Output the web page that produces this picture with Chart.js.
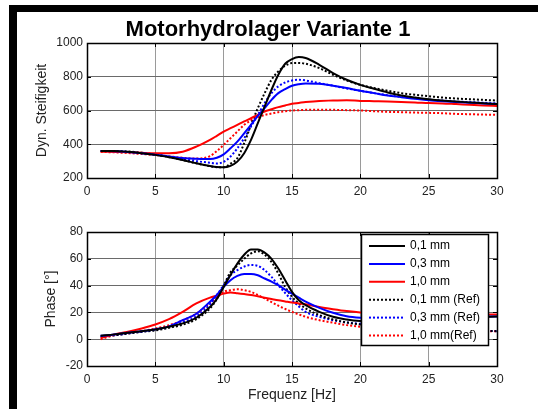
<!DOCTYPE html>
<html>
<head>
<meta charset="utf-8">
<title>Motorhydrolager Variante 1</title>
<script src="https://cdn.jsdelivr.net/npm/chart.js@4.4.0/dist/chart.umd.min.js"></script>
<style>
  body { margin: 0; background: #fff; width: 538px; height: 409px; overflow: hidden; position: relative; }
  canvas { position: absolute; left: 0; }
  #c1 { top: 0; }
  #c2 { top: 205px; }
  .bar { position: absolute; background: #000; }
</style>
</head>
<body>
<canvas id="c1" width="538" height="205"></canvas>
<canvas id="c2" width="538" height="204"></canvas>
<div class="bar" style="left:9px;top:5px;width:529px;height:7px"></div>
<div class="bar" style="left:9px;top:5px;width:8px;height:404px"></div>

<script>
// Frequenz [Hz]
const freq = [1, 2, 3, 4, 5, 6, 7, 8, 9, 9.5, 10, 10.5, 11, 11.5, 12, 12.5, 13, 13.5, 14, 14.5,
  15, 15.5, 16, 17, 18, 19, 20, 21, 22, 23, 24, 25, 26, 27, 28, 29, 30];

// Dyn. Steifigkeit
const stiff01 = [360, 360, 355, 347, 337, 323, 307, 287, 271, 265, 263, 272, 297, 347, 426, 525, 624, 723, 812, 877,
  905, 917, 911, 871, 822, 782, 752, 729, 707, 689, 677, 667, 659, 653, 648, 643, 638];
const stiff03 = [360, 358, 354, 347, 338, 328, 318, 314, 312, 320, 340, 376, 416, 465, 515, 568, 614, 663, 703, 727,
  747, 756, 760, 758, 747, 733, 717, 703, 689, 679, 669, 661, 655, 650, 646, 642, 638];
const stiff10 = [356, 354, 352, 349, 347, 347, 356, 386, 426, 450, 475, 495, 515, 535, 554, 574, 594, 607, 620, 630,
  640, 645, 650, 657, 659, 661, 657, 655, 653, 650, 648, 644, 642, 638, 634, 630, 627];
const stiff01Ref = [360, 360, 357, 350, 340, 325, 307, 287, 270, 264, 264, 285, 317, 406, 515, 614, 703, 782, 832, 865,
  881, 882, 877, 851, 812, 778, 752, 733, 717, 703, 693, 685, 677, 671, 667, 663, 659];
const stiff03Ref = [360, 358, 354, 347, 338, 326, 313, 300, 290, 286, 296, 327, 376, 436, 505, 574, 644, 703, 743, 766,
  778, 782, 778, 762, 747, 731, 717, 703, 691, 681, 673, 665, 659, 653, 650, 646, 642];
const stiff10Ref = [355, 352, 348, 342, 336, 328, 320, 315, 330, 360, 396, 436, 475, 515, 541, 558, 574, 582, 590, 595,
  600, 602, 604, 604, 604, 602, 600, 596, 592, 590, 588, 586, 584, 580, 578, 576, 574];

// Phase [°]
const phase01 = [2.6, 3.6, 4.8, 6, 7.3, 9.3, 11.8, 16, 24, 30, 39, 48, 56.4, 63, 67, 67, 64.6, 60, 52.7, 44,
  35.3, 29, 25.4, 20.4, 16.7, 14.7, 13.5, 13, 13, 13.5, 14, 14.5, 15, 15.5, 16, 16.5, 17];
const phase03 = [2.5, 3.5, 4.8, 6, 7.5, 9.6, 14.2, 19, 28, 33, 39, 44, 47.2, 48.7, 48.7, 47.7, 45.3, 43, 40.3, 37,
  34, 31, 28, 23.4, 19.7, 17.2, 16, 15.5, 15.5, 15.8, 16, 16.2, 16.5, 16.7, 17, 17, 17];
const phase10 = [1, 3.6, 5.5, 8, 11, 15, 20.4, 26.7, 31, 32.5, 34, 34.8, 34.3, 33.7, 33, 32, 31, 30, 29, 28.2,
  27.4, 26.7, 26, 24, 22.4, 21, 20, 19.6, 19.3, 19, 18.9, 18.8, 18.7, 18.6, 18.5, 18.5, 18.5];
const phase01Ref = [2, 3, 4.2, 5.5, 6.6, 8.5, 10.8, 15, 23, 30, 40, 50, 55, 60, 64, 65.6, 63, 57.7, 49, 39,
  31.6, 26.7, 23, 18, 14.7, 12.5, 11, 10, 9.2, 8.5, 8, 7.5, 7, 6.8, 6.5, 6.2, 6];
const phase03Ref = [2, 3, 4.3, 5.6, 7, 9, 12.5, 17, 26, 33, 40.3, 47.7, 51.5, 54.2, 55.4, 54.7, 51.5, 46.5, 40.3, 34.5,
  29, 24.5, 20.4, 16.7, 14.2, 12.5, 11.5, 10.5, 9.5, 8.8, 8.2, 7.6, 7.2, 6.8, 6.5, 6.2, 6];
const phase10Ref = [0, 3, 4.5, 6, 8, 10.5, 14, 19, 27, 31, 35.3, 36.6, 37.3, 36.6, 35.3, 33, 30.4, 27.7, 25, 22.6,
  20.4, 18.5, 16.7, 14.2, 12.3, 10.5, 9.3, 8.5, 7.9, 7.4, 7, 6.7, 6.5, 6.3, 6.1, 6, 6];

const labels = ['0,1 mm', '0,3 mm', '1,0 mm', '0,1 mm (Ref)', '0,3 mm (Ref)', '1,0 mm(Ref)'];
const colors = ['#000000', '#0000ff', '#ff0000', '#000000', '#0000ff', '#ff0000'];
const chartTitle = 'Motorhydrolager Variante 1';

const FONT = 'Arial, "Liberation Sans", sans-serif';

function pts(vals) {
  return freq.map((f, i) => ({ x: f, y: vals[i] }));
}

function makeDatasets(series) {
  return series.map((vals, i) => ({
    label: labels[i],
    data: pts(vals),
    borderColor: colors[i],
    borderWidth: 2,
    borderDash: i >= 3 ? [2, 2] : [],
    pointRadius: 0,
    cubicInterpolationMode: 'monotone',
    fill: false
  }));
}

// Rahmen und Ticks nach innen (wie Matlab)
const boxPlugin = {
  id: 'matlabBox',
  afterDatasetsDraw(chart) {
    const { ctx, chartArea: a, scales } = chart;
    ctx.save();
    ctx.strokeStyle = '#000';
    ctx.lineWidth = 1;
    ctx.beginPath();
    scales.x.ticks.forEach(t => {
      const px = Math.round(scales.x.getPixelForValue(t.value)) + 0.5;
      ctx.moveTo(px, a.bottom); ctx.lineTo(px, a.bottom - 4);
      ctx.moveTo(px, a.top); ctx.lineTo(px, a.top + 4);
    });
    scales.y.ticks.forEach(t => {
      const py = Math.round(scales.y.getPixelForValue(t.value)) + 0.5;
      ctx.moveTo(a.left, py); ctx.lineTo(a.left + 4, py);
      ctx.moveTo(a.right, py); ctx.lineTo(a.right - 4, py);
    });
    ctx.stroke();
    ctx.lineWidth = 1.5;
    ctx.strokeRect(a.left + 0.5, a.top + 0.5, a.right - a.left, a.bottom - a.top);
    ctx.restore();
  }
};

// Titel oben (Matlab-Stil, leicht links von der Achsmitte)
const titlePlugin = {
  id: 'topTitle',
  afterDraw(chart) {
    const ctx = chart.ctx;
    ctx.save();
    ctx.fillStyle = '#000';
    ctx.font = 'bold 22px ' + FONT;
    ctx.textAlign = 'center';
    ctx.textBaseline = 'middle';
    ctx.fillText(chartTitle, 268, 30);
    ctx.restore();
  }
};

// Legende im Diagramm
const legendPlugin = {
  id: 'boxLegend',
  afterDatasetsDraw(chart) {
    const ctx = chart.ctx;
    const x0 = 361, y0 = 29, w = 127, h = 111;
    ctx.save();
    ctx.fillStyle = '#fff';
    ctx.fillRect(x0, y0, w, h);
    ctx.strokeStyle = '#000';
    ctx.lineWidth = 1.5;
    ctx.strokeRect(x0 + 0.5, y0 + 0.5, w, h);
    ctx.font = '12px ' + FONT;
    ctx.textBaseline = 'middle';
    chart.data.datasets.forEach((ds, i) => {
      const y = y0 + 12 + i * 17.9;
      ctx.strokeStyle = ds.borderColor;
      ctx.lineWidth = 2;
      ctx.setLineDash(ds.borderDash);
      ctx.beginPath();
      ctx.moveTo(369, y);
      ctx.lineTo(405, y);
      ctx.stroke();
      ctx.setLineDash([]);
      ctx.fillStyle = '#000';
      ctx.fillText(ds.label, 410, y);
    });
    ctx.restore();
  }
};

function makeOptions(cfg) {
  return {
    responsive: false,
    animation: false,
    layout: { padding: { left: 0, right: 41, top: cfg.padTop, bottom: 0 } },
    plugins: {
      legend: { display: false },
      tooltip: { enabled: false },
      title: { display: false }
    },
    scales: {
      x: {
        type: 'linear',
        min: 0,
        max: 30,
        border: { display: false },
        grid: { color: '#9a9a9a', drawTicks: false },
        ticks: { stepSize: 5, padding: 6, color: '#222', font: { family: FONT, size: 12 } },
        title: cfg.xTitle ? {
          display: true,
          text: cfg.xTitle,
          color: '#222',
          font: { family: FONT, size: 14, lineHeight: 1.2 },
          padding: { top: 0, bottom: 5.6 }
        } : { display: false },
        afterFit: s => { s.height = cfg.xHeight; }
      },
      y: {
        min: cfg.yMin,
        max: cfg.yMax,
        border: { display: false },
        grid: { color: '#6a6a6a', drawTicks: false },
        ticks: {
          stepSize: cfg.yStep, padding: 4, color: '#222', font: { family: FONT, size: 12 },
          callback: v => String(v)
        },
        title: {
          display: true,
          text: cfg.yTitle,
          color: '#222',
          font: { family: FONT, size: 14, lineHeight: 1.2 },
          padding: { top: cfg.yTitlePad, bottom: 0 }
        },
        afterFit: s => { s.width = 87; }
      }
    }
  };
}

new Chart(document.getElementById('c1'), {
  type: 'line',
  data: { datasets: makeDatasets([stiff01, stiff03, stiff10, stiff01Ref, stiff03Ref, stiff10Ref]) },
  options: makeOptions({
    padTop: 43,
    xHeight: 27,
    yMin: 200, yMax: 1000, yStep: 200,
    yTitle: 'Dyn. Steifigkeit',
    yTitlePad: 33.6
  }),
  plugins: [boxPlugin, titlePlugin]
});

new Chart(document.getElementById('c2'), {
  type: 'line',
  data: { datasets: makeDatasets([phase01, phase03, phase10, phase01Ref, phase03Ref, phase10Ref]) },
  options: makeOptions({
    padTop: 27,
    xHeight: 43,
    xTitle: 'Frequenz [Hz]',
    yMin: -20, yMax: 80, yStep: 20,
    yTitle: 'Phase [°]',
    yTitlePad: 42.6
  }),
  plugins: [boxPlugin, legendPlugin]
});
</script>
</body>
</html>
